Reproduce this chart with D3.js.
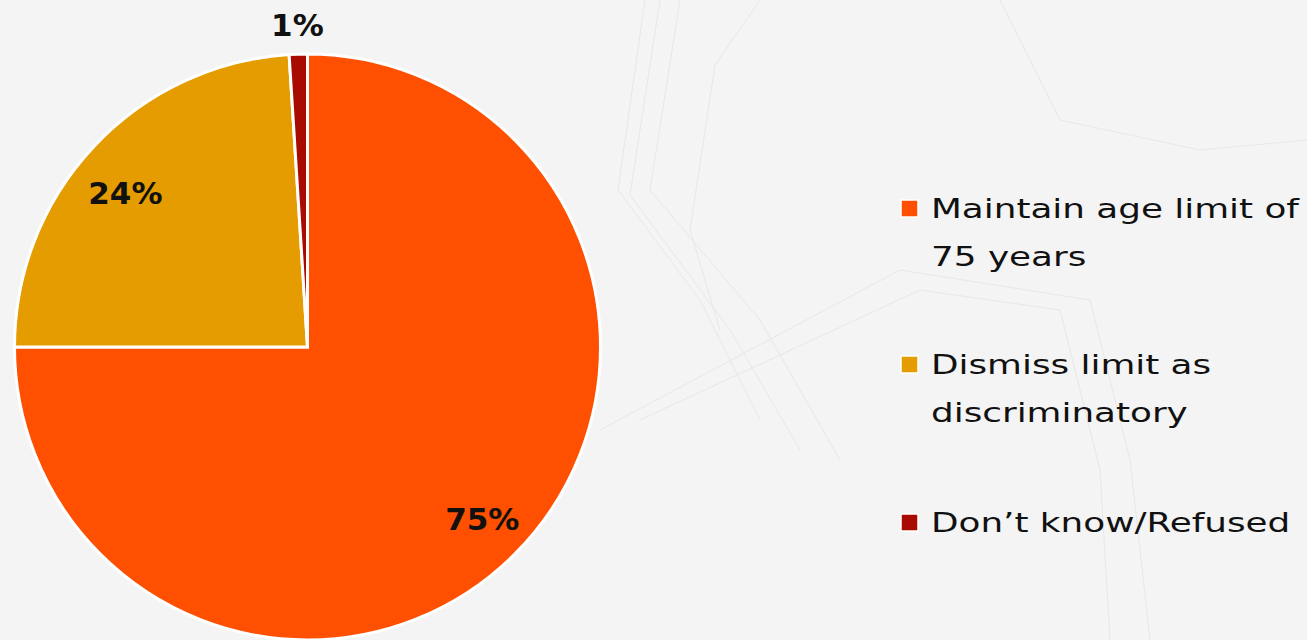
<!DOCTYPE html>
<html>
<head>
<meta charset="utf-8">
<script src="https://cdn.jsdelivr.net/npm/d3@7"></script>
<style>
  html, body { margin: 0; padding: 0; background: #f4f4f4; }
  svg { display: block; }
</style>
</head>
<body>
<svg id="chart" width="1307" height="640"></svg>
<script>
// Survey answers on the 75-year age limit
const categories = ["Maintain age limit of 75 years", "Dismiss limit as discriminatory", "Don\u2019t know/Refused"];
const legendLines = [["Maintain age limit of", "75 years"], ["Dismiss limit as", "discriminatory"], ["Don\u2019t know/Refused"]];
const values = [75, 24, 1];
const colors = ["#fe5000", "#e59c00", "#a80b00"];

const W = 1307, H = 640;
const svg = d3.select("#chart");

// faint decorative background lines
const bg = svg.append("g").attr("fill", "none").attr("stroke", "#dcdcdc").attr("stroke-width", 1).attr("opacity", 0.5);
const deco = [
  [[645, 0], [618, 190], [700, 300], [760, 420]],
  [[660, 0], [630, 195], [730, 330], [800, 450]],
  [[680, 0], [650, 190], [760, 320], [840, 460]],
  [[760, 0], [715, 65], [690, 230], [720, 330]],
  [[600, 430], [900, 270], [1090, 300], [1130, 460], [1150, 640]],
  [[640, 420], [920, 290], [1060, 310], [1100, 470], [1110, 640]],
  [[1000, 0], [1060, 120], [1200, 150], [1307, 140]]
];
deco.forEach(p => bg.append("path").attr("d", d3.line()(p)));

const cx = 307.5, cy = 347, R = 293;
const pie = d3.pie().sort(null).value(d => d)(values);
const arc = d3.arc().innerRadius(0).outerRadius(R);
const labelArc = d3.arc().innerRadius(243).outerRadius(243);

const g = svg.append("g").attr("transform", `translate(${cx},${cy})`);
g.selectAll("path.slice").data(pie).join("path")
  .attr("class", "slice")
  .attr("d", arc)
  .attr("fill", (d, i) => colors[i])
  .attr("stroke", "#ffffff")
  .attr("stroke-width", 3)
  .attr("stroke-linejoin", "miter");

g.selectAll("text.lbl").data(pie).join("text")
  .attr("class", "lbl")
  .attr("transform", (d, i) => {
    let [x, y] = labelArc.centroid(d);
    if (i === 2) {
      const a = (d.startAngle + d.endAngle) / 2;
      x = Math.sin(a) * 322; y = -Math.cos(a) * 322;
    } else if (i === 1) {
      x -= 5; y += 12;
    } else {
      x += 3;
    }
    return `translate(${x},${y})`;
  })
  .attr("text-anchor", "middle")
  .attr("dy", "0.36em")
  .attr("font-family", "'DejaVu Sans', sans-serif")
  .attr("font-weight", "bold")
  .attr("font-size", 31)
  .attr("fill", "#111")
  .text(d => d.data + "%");

// legend
const legendTops = [200, 356, 514];
const lg = svg.append("g");
const texts = [];
categories.forEach((c, i) => {
  const row = lg.append("g").attr("transform", `translate(0,${legendTops[i]})`);
  row.append("rect").attr("x", 901).attr("y", 0).attr("width", 17).attr("height", 17)
    .attr("fill", colors[i]).attr("stroke", "#ffffff").attr("stroke-width", 1.5);
  const t = row.append("text")
    .attr("font-family", "'DejaVu Sans', sans-serif")
    .attr("font-size", 27)
    .attr("fill", "#111");
  legendLines[i].forEach((line, j) => {
    t.append("tspan").attr("x", 0).attr("y", 18 + j * 48).text(line);
  });
  texts.push(t);
});
// widen the legend text to the geometric face's proportions
const w0 = texts[0].select("tspan").node().getComputedTextLength();
const k = 368 / w0;
texts.forEach(t => t.attr("transform", `translate(931,0) scale(${k},1)`));
</script>
</body>
</html>
